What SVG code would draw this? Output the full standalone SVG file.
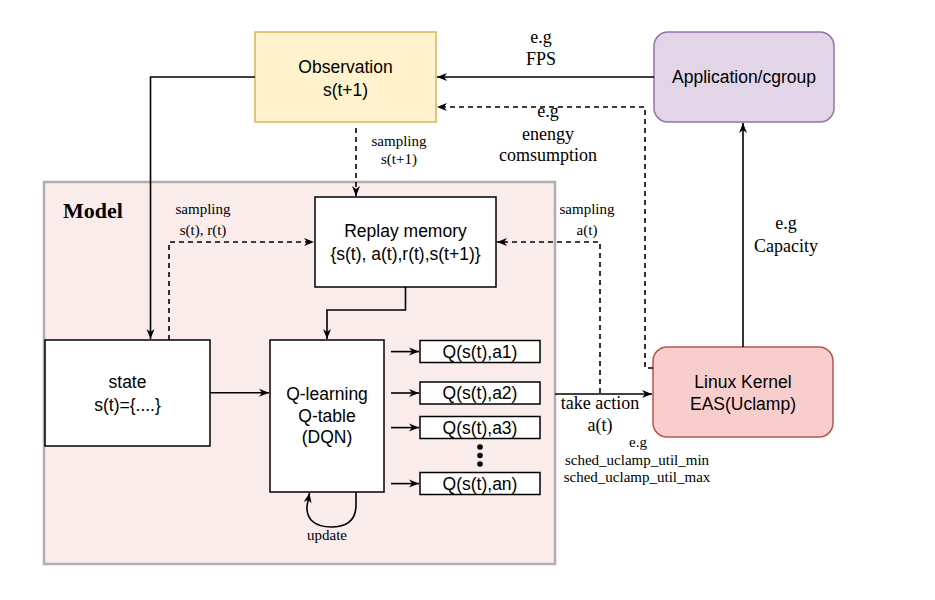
<svg xmlns="http://www.w3.org/2000/svg" width="935" height="600" viewBox="0 0 935 600">
<defs>
<marker id="arr" markerUnits="userSpaceOnUse" markerWidth="12" markerHeight="10" viewBox="0 0 12 10" refX="11" refY="5" orient="auto">
<path d="M1,1 L11,5 L1,9 L4,5 Z" fill="#000"/>
</marker>
<style>
.box{fill:#fff;stroke:#000;stroke-width:1.5}
.ln{fill:none;stroke:#000;stroke-width:1.6}
.dash{stroke-dasharray:5 4}
.sans{font-family:"Liberation Sans",Arial,sans-serif;font-size:17.5px;fill:#000;text-anchor:middle}
.ser{font-family:"Liberation Serif","Times New Roman",serif;fill:#000;text-anchor:middle}
.s15{font-size:15px}
.s18{font-size:18px}
</style>
</defs>
<rect width="935" height="600" fill="#fff"/>

<g id="model">
<rect x="44" y="182" width="511" height="382" fill="#f9eceb" stroke="#b3adad" stroke-width="2.5"/>
<text x="63" y="218" font-family="Liberation Serif,serif" font-weight="bold" font-size="22">Model</text>
</g>

<g id="observation">
<rect x="255" y="32" width="181" height="90" fill="#fff2cc" stroke="#d6b656" stroke-width="1.5"/>
<text class="sans" x="345.5" y="73">Observation</text>
<text class="sans" x="345.5" y="96">s(t+1)</text>
</g>

<g id="application">
<rect x="654" y="32" width="180" height="90" rx="14" fill="#e1d5e7" stroke="#9673a6" stroke-width="1.5"/>
<text class="sans" x="744" y="83">Application/cgroup</text>
</g>

<g id="linux">
<rect x="653" y="347" width="180" height="90" rx="14" fill="#f8cecc" stroke="#b85450" stroke-width="1.5"/>
<text class="sans" x="743" y="388">Linux Kernel</text>
<text class="sans" x="743" y="410">EAS(Uclamp)</text>
</g>

<g id="replay">
<rect class="box" x="315" y="197" width="181" height="90"/>
<text class="sans" x="405.5" y="237">Replay memory</text>
<text class="sans" x="405.5" y="260">{s(t), a(t),r(t),s(t+1)}</text>
</g>

<g id="state">
<rect class="box" x="45" y="340" width="165" height="106"/>
<text class="sans" x="127.5" y="387.5">state</text>
<text class="sans" x="127.5" y="411">s(t)={....}</text>
</g>

<g id="qlearning">
<rect class="box" x="270" y="340" width="114" height="152"/>
<text class="sans" x="327" y="400">Q-learning</text>
<text class="sans" x="327" y="421.5">Q-table</text>
<text class="sans" x="327" y="443">(DQN)</text>
</g>

<g id="q1">
<rect class="box" x="420" y="340.5" width="120" height="22"/>
<text class="sans" x="480" y="357.5">Q(s(t),a1)</text>
</g>
<g id="q2">
<rect class="box" x="420" y="382" width="120" height="22"/>
<text class="sans" x="480" y="399">Q(s(t),a2)</text>
</g>
<g id="q3">
<rect class="box" x="420" y="416.5" width="120" height="22"/>
<text class="sans" x="480" y="433.5">Q(s(t),a3)</text>
</g>
<g id="qn">
<rect class="box" x="420" y="472.5" width="120" height="22"/>
<text class="sans" x="480" y="489.5">Q(s(t),an)</text>
</g>
<g id="dots">
<circle cx="480" cy="447" r="2.8" fill="#000"/>
<circle cx="480" cy="455.5" r="2.8" fill="#000"/>
<circle cx="480" cy="464" r="2.8" fill="#000"/>
</g>

<g id="connectors">
<path class="ln" d="M654,77 H437" marker-end="url(#arr)"/>
<path class="ln dash" d="M653,368 H645 V107 H437" marker-end="url(#arr)"/>
<path class="ln" d="M743,347 V123" marker-end="url(#arr)"/>
<path class="ln" d="M255,77 H150.5 V339" marker-end="url(#arr)"/>
<path class="ln dash" d="M356,128 V196" marker-end="url(#arr)"/>
<path class="ln dash" d="M169,340 V242 H314" marker-end="url(#arr)"/>
<path class="ln" d="M405.5,287 V310 H327 V339" marker-end="url(#arr)"/>
<path class="ln" d="M210,392.7 H269" marker-end="url(#arr)"/>
<path class="ln" d="M391,351.6 H419" marker-end="url(#arr)"/>
<path class="ln" d="M391,393 H419" marker-end="url(#arr)"/>
<path class="ln" d="M391,427.6 H419" marker-end="url(#arr)"/>
<path class="ln" d="M391,483.6 H419" marker-end="url(#arr)"/>
<path class="ln" d="M555,394 H652" marker-end="url(#arr)"/>
<path class="ln dash" d="M600,393 V242 H497" marker-end="url(#arr)"/>
<path class="ln" d="M356,492 V505 C356,522 345,527 331,527 C316,527 306,520 307,506 L309.5,493" marker-end="url(#arr)"/>
</g>

<g id="labels">
<text class="ser s18" x="541" y="43">e.g</text>
<text class="ser s18" x="541" y="65">FPS</text>
<text class="ser s18" x="548" y="117">e.g</text>
<text class="ser s18" x="548" y="140">enengy</text>
<text class="ser s18" x="548" y="161">comsumption</text>
<text class="ser s15" x="399" y="146">sampling</text>
<text class="ser s15" x="399" y="164">s(t+1)</text>
<text class="ser s15" x="203" y="214">sampling</text>
<text class="ser s15" x="203" y="235">s(t), r(t)</text>
<text class="ser s15" x="587" y="214">sampling</text>
<text class="ser s15" x="587" y="235">a(t)</text>
<text class="ser s18" x="786" y="229">e.g</text>
<text class="ser s18" x="786" y="252">Capacity</text>
<text class="ser s18" x="600" y="409">take action</text>
<text class="ser s18" x="600" y="431">a(t)</text>
<text class="ser s15" x="638" y="447">e.g</text>
<text class="ser s15" x="637" y="465">sched_uclamp_util_min</text>
<text class="ser s15" x="637" y="482">sched_uclamp_util_max</text>
<text class="ser s15" x="327" y="540">update</text>
</g>
</svg>
